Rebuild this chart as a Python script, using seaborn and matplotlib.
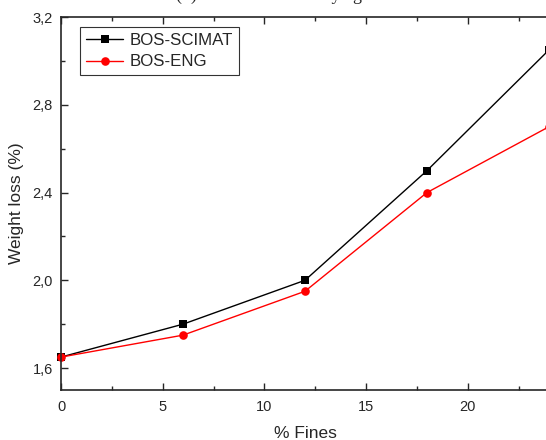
import numpy as np
import pandas as pd
import matplotlib
matplotlib.use("Agg")
import matplotlib.pyplot as plt
import seaborn as sns
from matplotlib.ticker import FuncFormatter, MultipleLocator

fines = [0, 6, 12, 18, 24]
scimat = [1.65, 1.80, 2.00, 2.50, 3.05]
eng = [1.65, 1.75, 1.95, 2.40, 2.70]
series_names = ["BOS-SCIMAT", "BOS-ENG"]

df = pd.DataFrame({
    "fines": fines * 2,
    "loss": scimat + eng,
    "series": [series_names[0]] * len(fines) + [series_names[1]] * len(fines),
})

sns.set_style("ticks")
plt.rcParams["font.family"] = ["Liberation Sans", "DejaVu Sans"]

fig = plt.figure(figsize=(5.46, 4.40), dpi=100)
ax = fig.add_axes([61 / 546, 1 - 390 / 440, (549 - 61) / 546, (390 - 17) / 440])

sns.lineplot(data=df, x="fines", y="loss", hue="series", style="series",
             palette={"BOS-SCIMAT": "black", "BOS-ENG": "red"},
             markers={"BOS-SCIMAT": "s", "BOS-ENG": "o"},
             dashes=False, linewidth=1.0, markersize=6, markeredgewidth=0,
             ax=ax, clip_on=False)

for ln in ax.lines:
    if ln.get_marker() == "s":
        ln.set_markersize(5.6)
    elif ln.get_marker() == "o":
        ln.set_markersize(6.2)

ax.set_xlim(0, 24)
ax.set_ylim(1.5, 3.2)
ax.xaxis.set_major_locator(MultipleLocator(5))
ax.xaxis.set_minor_locator(MultipleLocator(2.5))
ax.yaxis.set_major_locator(MultipleLocator(0.4))
ax.yaxis.set_minor_locator(MultipleLocator(0.2))
ax.yaxis.set_major_formatter(FuncFormatter(lambda v, p: f"{v:.1f}".replace(".", ",")))
ax.tick_params(which="both", direction="in", top=True, right=False, labelsize=10.5, width=1)
ax.tick_params(which="major", length=5)
ax.tick_params(which="minor", length=3)
ax.tick_params(axis="x", which="major", pad=7.5)
ax.tick_params(axis="y", which="major", pad=6)
for s in ["top", "left", "bottom"]:
    ax.spines[s].set_linewidth(1.2)
ax.spines["right"].set_visible(False)

ax.set_xlabel("% Fines", fontsize=12.5, labelpad=8)
ax.set_ylabel("Weight loss (%)", fontsize=12.5, labelpad=6)

leg = ax.legend(loc="upper left", bbox_to_anchor=(0.039, 0.973), frameon=True,
                fancybox=False, edgecolor="black", fontsize=12.2, handlelength=2.2,
                borderpad=0.35, labelspacing=0.38, handletextpad=0.36, borderaxespad=0)
leg.get_frame().set_linewidth(0.8)

fig.text(176 / 546, 1.0, "(b) Abrasion durability against fines",
         fontsize=13, family="Liberation Serif", va="baseline", ha="left")

fig.savefig("out.png", dpi=100)
